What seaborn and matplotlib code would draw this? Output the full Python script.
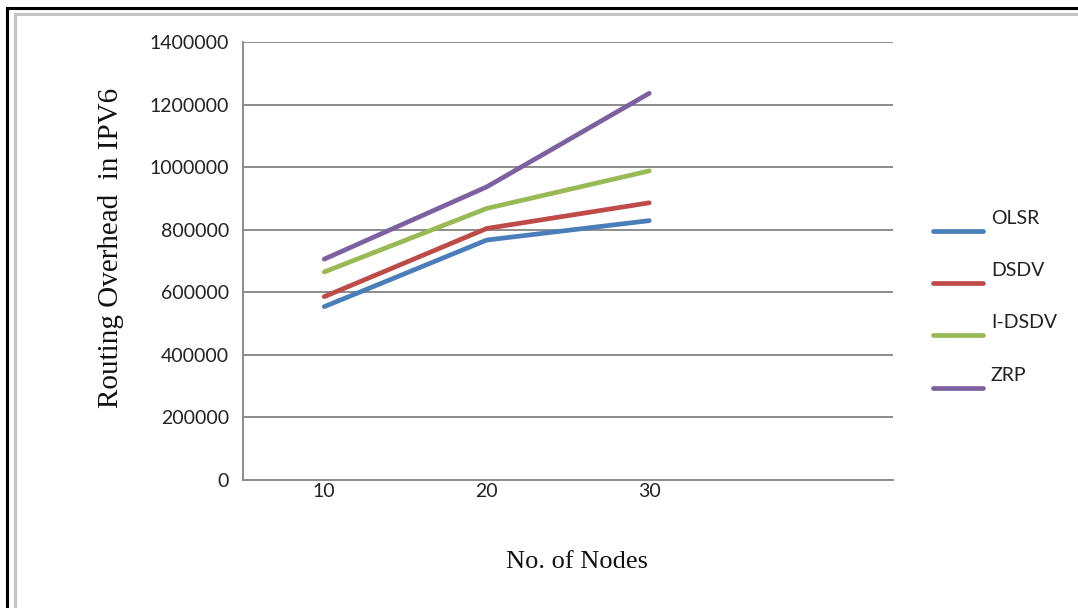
import matplotlib
matplotlib.use("Agg")
import matplotlib.pyplot as plt
from matplotlib.patches import Rectangle
from matplotlib.legend_handler import HandlerLine2D
from matplotlib.ticker import FixedLocator
import seaborn as sns
import pandas as pd

# Routing overhead per protocol, by number of nodes
nodes = ["10", "20", "30"]
olsr = [554000, 767000, 829000]
dsdv = [586000, 804000, 886000]
idsdv = [665000, 868000, 988000]
zrp = [706000, 937000, 1236000]
protocols = ["OLSR", "DSDV", "I-DSDV", "ZRP"]
y_ticks = [0, 200000, 400000, 600000, 800000, 1000000, 1200000, 1400000]

colors = ["#4A7EBB", "#BE4B48", "#98B954", "#7D60A0"]

df = pd.DataFrame({
    "Nodes": nodes * 4,
    "Overhead": olsr + dsdv + idsdv + zrp,
    "Protocol": [p for p in protocols for _ in nodes],
})

sns.set_theme(style="white")
plt.rcParams["font.family"] = ["Lato", "DejaVu Sans"]

fig = plt.figure(figsize=(10.78, 6.08), dpi=100)
ax = fig.add_axes([243 / 1078, 1 - 480 / 608, 650 / 1078, 438 / 608])

sns.lineplot(data=df, x="Nodes", y="Overhead", hue="Protocol",
             palette=colors, linewidth=3.4, ax=ax, sort=False,
             legend=False, solid_capstyle="round")

grid_c = "#8c8c8c"
ax.set_xlim(-0.5, 3.5)
ax.set_ylim(0, 1400000)
ax.set_yticks(y_ticks)
ax.set_yticklabels([str(v) for v in y_ticks])
ax.yaxis.grid(True, color=grid_c, linewidth=1.4)
ax.set_axisbelow(True)

# category labels at centres, tick marks on category boundaries
ax.set_xticks(range(len(nodes)))
ax.set_xticklabels(nodes)
ax.xaxis.set_minor_locator(FixedLocator([-0.5, 0.5, 1.5, 2.5, 3.5]))
ax.tick_params(axis="x", which="major", length=0, pad=2, labelsize=14, colors="#222222")
ax.tick_params(axis="x", which="minor", length=7, width=1.2, color=grid_c, direction="out")
ax.tick_params(axis="y", which="major", length=7, width=1.2, color=grid_c,
               direction="out", pad=3, labelsize=14, labelcolor="#222222")

for s in ["top", "right"]:
    ax.spines[s].set_visible(False)
for s in ["left", "bottom"]:
    ax.spines[s].set_color(grid_c)
    ax.spines[s].set_linewidth(1.4)

ax.set_ylabel("Routing Overhead  in IPV6", fontsize=21, family="Liberation Serif",
              color="#111111", va="center")
ax.yaxis.set_label_coords((111 - 243) / 650, (480 - 248) / 438)
ax.set_xlabel("No. of Nodes", fontsize=19, family="Liberation Serif",
              color="#111111", va="center")
ax.xaxis.set_label_coords((577 - 243) / 650, (480 - 562) / 438)


class LoweredLine(HandlerLine2D):
    """Legend line drawn below its text, spanning the full handle width."""
    def create_artists(self, legend, orig_handle, xdescent, ydescent,
                       width, height, fontsize, trans):
        arts = super().create_artists(legend, orig_handle, xdescent, ydescent,
                                      width, height, fontsize, trans)
        for a in arts:
            yd = a.get_ydata()
            a.set_ydata([y - 10 for y in yd])
        return arts


handles = [plt.Line2D([0, 1], [0, 0], color=c, lw=3.4, solid_capstyle="round")
           for c in colors]
leg = fig.legend(handles, protocols, loc="upper left",
                 bbox_to_anchor=(915 / 1078, 1 - 192 / 608),
                 frameon=False, fontsize=14, handlelength=2.6,
                 handletextpad=0.4, labelspacing=1.82,
                 handler_map={plt.Line2D: LoweredLine(marker_pad=0, numpoints=2)})
for t in leg.get_texts():
    t.set_color("#222222")

# outer frame of the figure
fig.patches.append(Rectangle((7 / 1078, -0.1), 2.0, (1 - 8 / 608) + 0.1,
                             transform=fig.transFigure, fill=False,
                             edgecolor="black", linewidth=2.2))
fig.patches.append(Rectangle((14.5 / 1078, -0.1), 2.0, (1 - 14.5 / 608) + 0.1,
                             transform=fig.transFigure, fill=False,
                             edgecolor="#c4c4c4", linewidth=2.2))

fig.savefig("out.png", dpi=100)
